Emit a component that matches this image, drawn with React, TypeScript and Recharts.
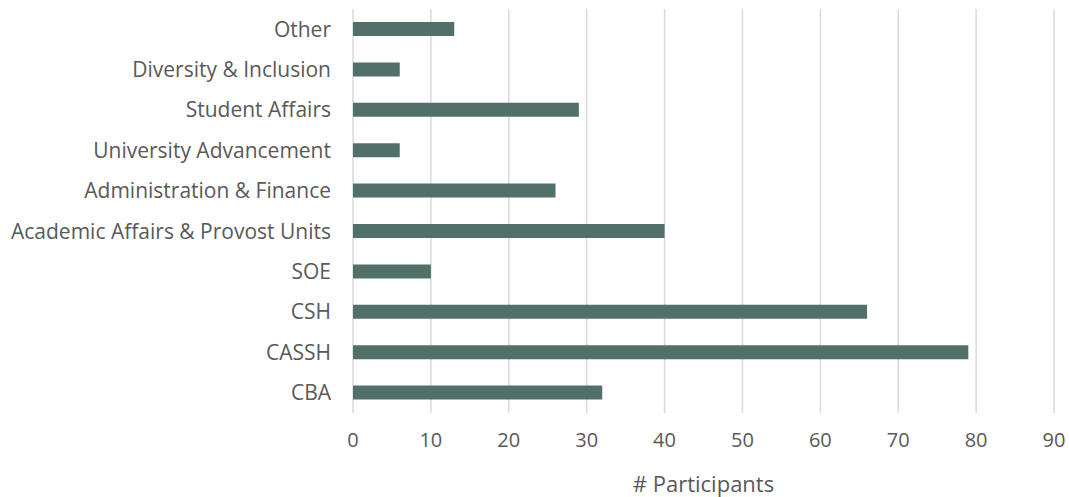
import { BarChart, Bar, XAxis, YAxis, CartesianGrid } from "recharts";

const units = [
  "Other",
  "Diversity & Inclusion",
  "Student Affairs",
  "University Advancement",
  "Administration & Finance",
  "Academic Affairs & Provost Units",
  "SOE",
  "CSH",
  "CASSH",
  "CBA",
];
const participants = [13, 6, 29, 6, 26, 40, 10, 66, 79, 32];
const xTicks = [0, 10, 20, 30, 40, 50, 60, 70, 80, 90];

const data = units.map((unit, i) => ({ unit, participants: participants[i] }));

const FONT = "'Open Sans', sans-serif";
const TEXT = "#595959";

export default function App() {
  return (
    <div style={{ position: "absolute", left: 0, top: 0, background: "#fff" }}>
      <BarChart
        width={1069}
        height={497}
        data={data}
        layout="vertical"
        margin={{ top: 9, right: 15, left: 0, bottom: 0 }}
        barSize={14}
      >
        <CartesianGrid horizontal={false} stroke="#d9d9d9" strokeWidth={1.5} />
        <XAxis
          type="number"
          domain={[0, 90]}
          ticks={xTicks}
          axisLine={false}
          tickLine={false}
          tickSize={0}
          tickMargin={20}
          height={84}
          tick={{ fontSize: 20, fill: TEXT, fontFamily: FONT }}
          label={{
            value: "# Participants",
            position: "insideBottom",
            offset: 5,
            fontSize: 22,
            fill: TEXT,
            fontFamily: FONT,
          }}
        />
        <YAxis
          type="category"
          dataKey="unit"
          width={353}
          axisLine={false}
          tickLine={false}
          tickSize={0}
          tickMargin={22}
          interval={0}
          tick={{ fontSize: 21, fill: TEXT, fontFamily: FONT }}
        />
        <Bar dataKey="participants" fill="#52706a" isAnimationActive={false} />
      </BarChart>
    </div>
  );
}
